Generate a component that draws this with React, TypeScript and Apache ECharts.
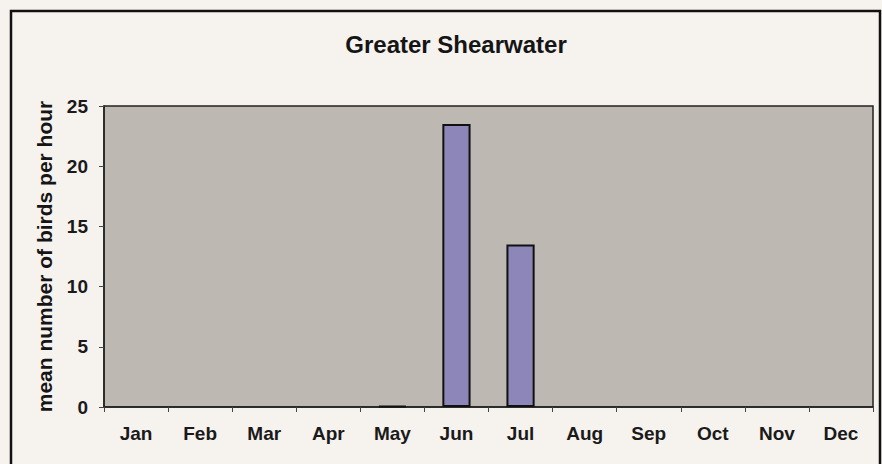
import React, { useEffect, useRef } from "react";
import * as echarts from "echarts";

const months = ["Jan", "Feb", "Mar", "Apr", "May", "Jun", "Jul", "Aug", "Sep", "Oct", "Nov", "Dec"];
const birdsPerHour = [0, 0, 0, 0, 0.1, 23.5, 13.5, 0, 0, 0, 0, 0];
const yTicks = { min: 0, max: 25, interval: 5 };
const titleText = "Greater Shearwater";
const yAxisTitle = "mean number of birds per hour";

export default function App() {
  const ref = useRef<HTMLDivElement>(null);
  useEffect(() => {
    if (!ref.current) return;
    const chart = echarts.init(ref.current, null, { renderer: "svg" });
    const font = "Liberation Sans, Arial, sans-serif";
    chart.setOption({
      animation: false,
      backgroundColor: "#f6f2ee",
      title: {
        text: titleText,
        left: 451,
        top: 27,
        textAlign: "center",
        textStyle: { fontFamily: font, fontWeight: "bold", fontSize: 24, color: "#151515" },
      },
      graphic: [
        {
          type: "rect",
          shape: { x: 11, y: 11, width: 869, height: 480 },
          style: { fill: "none", stroke: "#111", lineWidth: 2.5 },
          silent: true,
        },
      ],
      grid: {
        left: 104,
        right: 9,
        top: 106,
        bottom: 57,
        show: true,
        backgroundColor: "#bdb9b2",
        borderColor: "#222",
        borderWidth: 1.5,
      },
      xAxis: {
        type: "category",
        data: months,
        axisLine: { show: true, lineStyle: { color: "#222", width: 1.5 } },
        axisTick: { show: true, length: 5, alignWithLabel: false, lineStyle: { color: "#444" } },
        axisLabel: { fontFamily: font, fontSize: 19, fontWeight: "bold", color: "#1a1a1a", margin: 17 },
      },
      yAxis: {
        type: "value",
        min: yTicks.min,
        max: yTicks.max,
        interval: yTicks.interval,
        name: yAxisTitle,
        nameLocation: "middle",
        nameGap: 49,
        nameTextStyle: { fontFamily: font, fontSize: 21, fontWeight: "bold", color: "#151515" },
        axisLine: { show: true, lineStyle: { color: "#222", width: 1.5 } },
        axisTick: { show: true, length: 5, lineStyle: { color: "#444" } },
        splitLine: { show: false },
        axisLabel: { fontFamily: font, fontSize: 19, fontWeight: "bold", color: "#1a1a1a", margin: 16 },
      },
      series: [
        {
          type: "bar",
          data: birdsPerHour.map((v) => ({
            value: v,
            itemStyle: { borderWidth: v > 0 ? 2 : 0 },
          })),
          barWidth: "44%",
          itemStyle: { color: "#8d87b9", borderColor: "#111", borderWidth: 2 },
        },
      ],
    });
    return () => chart.dispose();
  }, []);
  return (
    <div
      ref={ref}
      style={{ position: "fixed", left: 0, top: 0, width: 882, height: 464 }}
    />
  );
}
